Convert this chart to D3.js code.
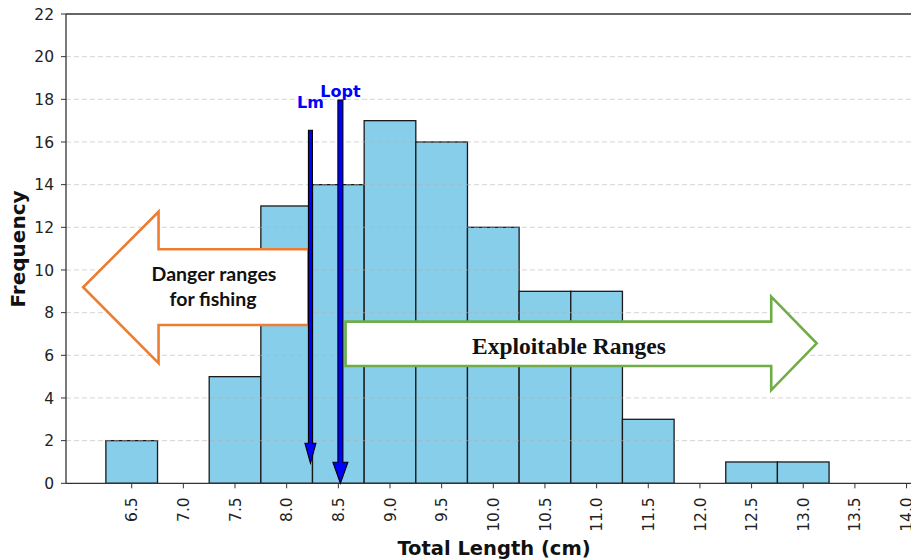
<!DOCTYPE html>
<html>
<head>
<meta charset="utf-8">
<script src="https://cdn.jsdelivr.net/npm/d3@7"></script>
<style>
  body { margin: 0; background: #fff; }
  svg { display: block; }
</style>
</head>
<body>
<div id="chart"></div>
<script>
// histogram bins (left edges, width 0.5) and counts
const binStarts = [6.25, 6.75, 7.25, 7.75, 8.25, 8.75, 9.25, 9.75, 10.25, 10.75, 11.25, 11.75, 12.25, 12.75, 13.25];
const counts = [2, 0, 5, 13, 14, 17, 16, 12, 9, 9, 3, 0, 1, 1, 0];
const binWidth = 0.5;

const xTicks = [6.5, 7.0, 7.5, 8.0, 8.5, 9.0, 9.5, 10.0, 10.5, 11.0, 11.5, 12.0, 12.5, 13.0, 13.5, 14.0];
const yTicks = [0, 2, 4, 6, 8, 10, 12, 14, 16, 18, 20, 22];

// reference lengths
const marks = [
  { name: "Lm", x: 8.23, top: 16.55, tip: 0.94, labelY: 17.6, shaft: 4, head: 11, headLen: 20 },
  { name: "Lopt", x: 8.52, top: 17.97, tip: 0.0, labelY: 18.1, shaft: 5, head: 15, headLen: 21 },
];

// annotation arrows in data units
const dangerArrow = { tip: [6.03, 9.19], headBase: 6.76, end: 8.21, headTop: 12.73, headBottom: 5.63, shaftTop: 10.97, shaftBottom: 7.42 };
const exploitArrow = { start: 8.57, headBase: 12.69, tip: [13.13, 6.56], headTop: 8.75, headBottom: 4.37, shaftTop: 7.58, shaftBottom: 5.5 };

const width = 911, height = 559;
const plotLeft = 66, plotTop = 14, plotRight = 911;

const x = d3.scaleLinear().domain([6.5, 10.0]).range([131.7, 493.3]);
const y = d3.scaleLinear().domain([0, 22]).range([483.3, 14]);

const svg = d3.select("#chart").append("svg")
  .attr("width", width)
  .attr("height", height);

const font = "'DejaVu Sans', sans-serif";

// bars
svg.append("g").selectAll("rect")
  .data(binStarts.map((b, i) => ({ b, c: counts[i] })).filter(d => d.c > 0))
  .join("rect")
  .attr("x", d => x(d.b))
  .attr("y", d => y(d.c))
  .attr("width", d => x(d.b + binWidth) - x(d.b))
  .attr("height", d => y(0) - y(d.c))
  .attr("fill", "#87ceeb")
  .attr("stroke", "#1a1a1a")
  .attr("stroke-width", 1.3);

// grid (drawn over bars, translucent)
svg.append("g").selectAll("line")
  .data(yTicks.filter(t => t > 0 && t < 22))
  .join("line")
  .attr("x1", plotLeft).attr("x2", plotRight)
  .attr("y1", d => y(d)).attr("y2", d => y(d))
  .attr("stroke", "#b0b0b0")
  .attr("stroke-opacity", 0.55)
  .attr("stroke-width", 1)
  .attr("stroke-dasharray", "5,3");

// spines
svg.append("line").attr("x1", plotLeft).attr("x2", plotRight).attr("y1", plotTop).attr("y2", plotTop)
  .attr("stroke", "#333").attr("stroke-width", 1.3);
svg.append("line").attr("x1", plotLeft).attr("x2", plotRight).attr("y1", y(0)).attr("y2", y(0))
  .attr("stroke", "#333").attr("stroke-width", 1.3);
svg.append("line").attr("x1", plotLeft).attr("x2", plotLeft).attr("y1", plotTop).attr("y2", y(0))
  .attr("stroke", "#333").attr("stroke-width", 1.3);

// y axis
const yAxis = svg.append("g");
yAxis.selectAll("line").data(yTicks).join("line")
  .attr("x1", plotLeft - 5).attr("x2", plotLeft)
  .attr("y1", d => y(d)).attr("y2", d => y(d))
  .attr("stroke", "#333").attr("stroke-width", 1);
yAxis.selectAll("text").data(yTicks).join("text")
  .attr("x", plotLeft - 12)
  .attr("y", d => y(d))
  .attr("dy", "0.36em")
  .attr("text-anchor", "end")
  .attr("font-family", font)
  .attr("font-size", 15.5)
  .attr("fill", "#222")
  .text(d => d);

// x axis
const xAxis = svg.append("g");
xAxis.selectAll("line").data(xTicks).join("line")
  .attr("x1", d => x(d)).attr("x2", d => x(d))
  .attr("y1", y(0)).attr("y2", y(0) + 5)
  .attr("stroke", "#333").attr("stroke-width", 1);
xAxis.selectAll("text").data(xTicks).join("text")
  .attr("transform", d => `translate(${x(d)},${y(0) + 14}) rotate(-90)`)
  .attr("dy", "0.36em")
  .attr("text-anchor", "end")
  .attr("font-family", font)
  .attr("font-size", 15.5)
  .attr("fill", "#222")
  .text(d => d.toFixed(1));

// axis titles
svg.append("text")
  .attr("x", 494).attr("y", 555)
  .attr("text-anchor", "middle")
  .attr("font-family", font).attr("font-weight", "bold")
  .attr("font-size", 19.5)
  .attr("fill", "#111")
  .text("Total Length (cm)");
svg.append("text")
  .attr("transform", `translate(25,249) rotate(-90)`)
  .attr("text-anchor", "middle")
  .attr("font-family", font).attr("font-weight", "bold")
  .attr("font-size", 20)
  .attr("fill", "#111")
  .text("Frequency");

// big annotation arrows
const line = d3.line();
const dA = dangerArrow;
svg.append("path")
  .attr("d", line([
    [x(dA.tip[0]), y(dA.tip[1])],
    [x(dA.headBase), y(dA.headTop)],
    [x(dA.headBase), y(dA.shaftTop)],
    [x(dA.end), y(dA.shaftTop)],
    [x(dA.end), y(dA.shaftBottom)],
    [x(dA.headBase), y(dA.shaftBottom)],
    [x(dA.headBase), y(dA.headBottom)],
  ]) + "Z")
  .attr("fill", "#fff")
  .attr("stroke", "#ed7d31")
  .attr("stroke-width", 2.6);

const eA = exploitArrow;
svg.append("path")
  .attr("d", line([
    [x(eA.start), y(eA.shaftTop)],
    [x(eA.headBase), y(eA.shaftTop)],
    [x(eA.headBase), y(eA.headTop)],
    [x(eA.tip[0]), y(eA.tip[1])],
    [x(eA.headBase), y(eA.headBottom)],
    [x(eA.headBase), y(eA.shaftBottom)],
    [x(eA.start), y(eA.shaftBottom)],
  ]) + "Z")
  .attr("fill", "#fff")
  .attr("stroke", "#70ad47")
  .attr("stroke-width", 2.6);

svg.append("text")
  .attr("x", 214).attr("y", 281)
  .attr("text-anchor", "middle")
  .attr("font-family", "Lato, 'Open Sans', sans-serif").attr("font-weight", "bold")
  .attr("font-size", 19.5)
  .attr("fill", "#111")
  .text("Danger ranges");
svg.append("text")
  .attr("x", 213).attr("y", 306)
  .attr("text-anchor", "middle")
  .attr("font-family", "Lato, 'Open Sans', sans-serif").attr("font-weight", "bold")
  .attr("font-size", 19.5)
  .attr("fill", "#111")
  .text("for fishing");

svg.append("text")
  .attr("x", 569).attr("y", 353.5)
  .attr("text-anchor", "middle")
  .attr("font-family", "'Liberation Serif', 'Times New Roman', serif").attr("font-weight", "bold")
  .attr("font-size", 23.5)
  .attr("fill", "#111")
  .text("Exploitable Ranges");

// Lm / Lopt arrows
marks.forEach(m => {
  const cx = x(m.x), yt = y(m.top), yp = y(m.tip);
  const yh = yp - m.headLen;
  const s = m.shaft / 2, h = m.head / 2;
  svg.append("path")
    .attr("d", line([
      [cx - s, yt], [cx + s, yt], [cx + s, yh], [cx + h, yh],
      [cx, yp], [cx - h, yh], [cx - s, yh],
    ]) + "Z")
    .attr("fill", "#0000ff")
    .attr("stroke", "#000")
    .attr("stroke-width", 1.1);
  svg.append("text")
    .attr("x", cx).attr("y", y(m.labelY))
    .attr("text-anchor", "middle")
    .attr("font-family", font).attr("font-weight", "bold")
    .attr("font-size", 16)
    .attr("fill", "#0000ff")
    .text(m.name);
});
</script>
</body>
</html>
